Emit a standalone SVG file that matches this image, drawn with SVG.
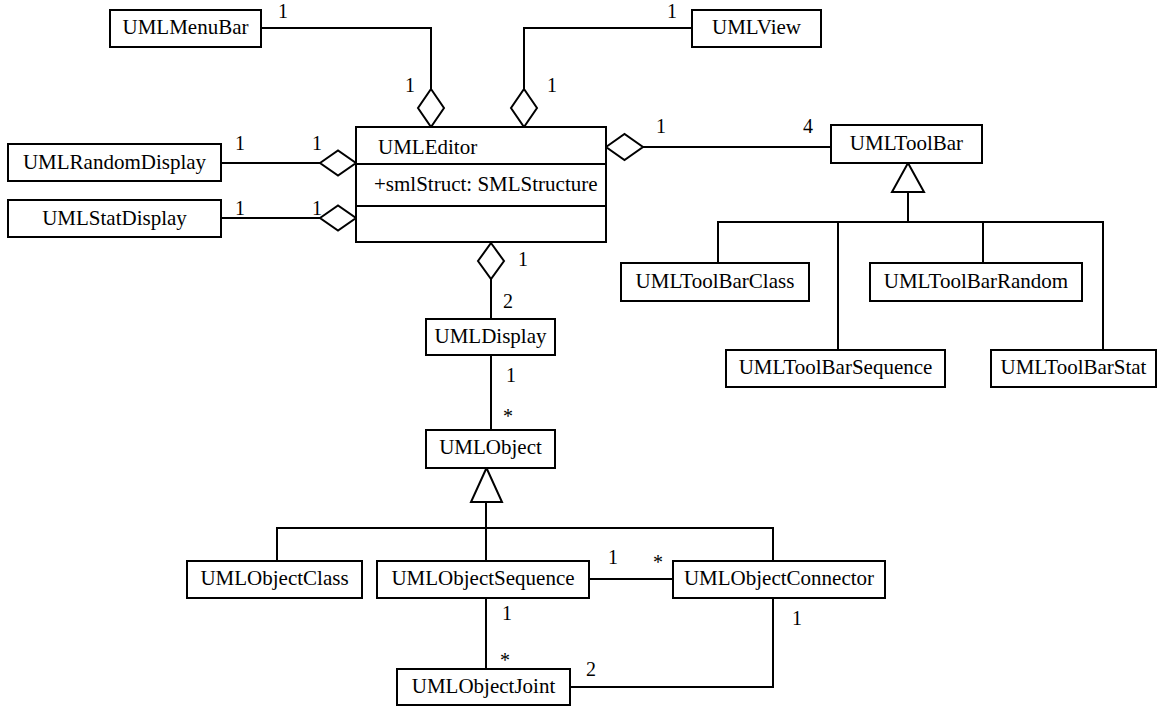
<svg xmlns="http://www.w3.org/2000/svg" width="1158" height="706" viewBox="0 0 1158 706">
<style>
.box{fill:#fff;stroke:#000;stroke-width:2}
.ln{fill:none;stroke:#000;stroke-width:2}
.dia{fill:#fff;stroke:#000;stroke-width:2}
.tri{fill:#fff;stroke:#000;stroke-width:2}
text{font-family:"Liberation Serif","Times New Roman",serif;font-size:21px;fill:#000}
.c{text-anchor:middle}
.m{font-size:20px}
</style>
<rect width="1158" height="706" fill="#fff"/>
<g id="connectors">
<polyline class="ln" points="261,28 431,28 431,89"/>
<polyline class="ln" points="692,28 524,28 524,89"/>
<line class="ln" x1="221" y1="163" x2="320" y2="163"/>
<line class="ln" x1="221" y1="218" x2="320" y2="218"/>
<line class="ln" x1="643" y1="147" x2="831" y2="147"/>
<line class="ln" x1="491" y1="279" x2="491" y2="319"/>
<line class="ln" x1="491" y1="355" x2="491" y2="430"/>
<line class="ln" x1="908" y1="192" x2="908" y2="222"/>
<polyline class="ln" points="718,263 718,222 1103,222 1103,350"/>
<line class="ln" x1="838" y1="222" x2="838" y2="350"/>
<line class="ln" x1="983" y1="222" x2="983" y2="263"/>
<line class="ln" x1="486" y1="502" x2="486" y2="561"/>
<polyline class="ln" points="277,561 277,528 773,528 773,561"/>
<line class="ln" x1="589" y1="579" x2="673" y2="579"/>
<line class="ln" x1="486" y1="598" x2="486" y2="669"/>
<polyline class="ln" points="773,598 773,687 570,687"/>
<polygon class="dia" points="431,89 444,108 431,127 418,108"/>
<polygon class="dia" points="524,89 537,108 524,127 511,108"/>
<polygon class="dia" points="320,163 338,150.5 356,163 338,175.5"/>
<polygon class="dia" points="320,218 338,205.5 356,218 338,230.5"/>
<polygon class="dia" points="606,147 624.5,134 643,147 624.5,160"/>
<polygon class="dia" points="491,243 504,261 491,279 478,261"/>
<polygon class="tri" points="908,163 924,192 892,192"/>
<polygon class="tri" points="486.5,468 502,502 471,502"/>
<g class="labels">
<text class="m" x="278" y="18">1</text>
<text class="m" x="667" y="18">1</text>
<text class="m" x="405" y="92">1</text>
<text class="m" x="547" y="92">1</text>
<text class="m" x="235" y="150">1</text>
<text class="m" x="312" y="150">1</text>
<text class="m" x="235" y="215">1</text>
<text class="m" x="312" y="215">1</text>
<text class="m" x="656" y="133">1</text>
<text class="m" x="803" y="133">4</text>
<text class="m" x="518" y="266">1</text>
<text class="m" x="503" y="308">2</text>
<text class="m" x="506" y="382">1</text>
<text class="m" x="503" y="423">*</text>
<text class="m" x="608" y="564">1</text>
<text class="m" x="653" y="569">*</text>
<text class="m" x="502" y="620">1</text>
<text class="m" x="500" y="667">*</text>
<text class="m" x="792" y="625">1</text>
<text class="m" x="586" y="676">2</text>
</g>
</g>
<g id="UMLMenuBar"><rect class="box" x="110" y="10" width="151" height="37"/><text class="c" x="185.5" y="34">UMLMenuBar</text></g>
<g id="UMLView"><rect class="box" x="692" y="10" width="129" height="37"/><text class="c" x="756.5" y="34">UMLView</text></g>
<g id="UMLEditor"><rect class="box" x="356" y="127" width="250" height="115"/><line class="ln" x1="356" y1="164" x2="606" y2="164"/><line class="ln" x1="356" y1="206" x2="606" y2="206"/><text x="378" y="154">UMLEditor</text><text x="374" y="191">+smlStruct: SMLStructure</text></g>
<g id="UMLRandomDisplay"><rect class="box" x="8" y="144" width="213" height="37"/><text class="c" x="114.5" y="169">UMLRandomDisplay</text></g>
<g id="UMLStatDisplay"><rect class="box" x="8" y="200" width="213" height="37"/><text class="c" x="114.5" y="225">UMLStatDisplay</text></g>
<g id="UMLToolBar"><rect class="box" x="831" y="125" width="151" height="38"/><text class="c" x="906.5" y="150">UMLToolBar</text></g>
<g id="UMLToolBarClass"><rect class="box" x="621" y="263" width="188" height="38"/><text class="c" x="715" y="288">UMLToolBarClass</text></g>
<g id="UMLToolBarRandom"><rect class="box" x="870" y="263" width="212" height="38"/><text class="c" x="976" y="288">UMLToolBarRandom</text></g>
<g id="UMLToolBarSequence"><rect class="box" x="726" y="350" width="219" height="37"/><text class="c" x="835.5" y="374">UMLToolBarSequence</text></g>
<g id="UMLToolBarStat"><rect class="box" x="991" y="350" width="165" height="37"/><text class="c" x="1073.5" y="374">UMLToolBarStat</text></g>
<g id="UMLDisplay"><rect class="box" x="426" y="319" width="129" height="36"/><text class="c" x="490.5" y="343">UMLDisplay</text></g>
<g id="UMLObject"><rect class="box" x="426" y="430" width="129" height="38"/><text class="c" x="490.5" y="454">UMLObject</text></g>
<g id="UMLObjectClass"><rect class="box" x="187" y="561" width="175" height="37"/><text class="c" x="274.5" y="585">UMLObjectClass</text></g>
<g id="UMLObjectSequence"><rect class="box" x="377" y="561" width="212" height="37"/><text class="c" x="483" y="585">UMLObjectSequence</text></g>
<g id="UMLObjectConnector"><rect class="box" x="673" y="561" width="212" height="37"/><text class="c" x="779" y="585">UMLObjectConnector</text></g>
<g id="UMLObjectJoint"><rect class="box" x="397" y="669" width="173" height="36"/><text class="c" x="483.5" y="693">UMLObjectJoint</text></g>
</svg>
